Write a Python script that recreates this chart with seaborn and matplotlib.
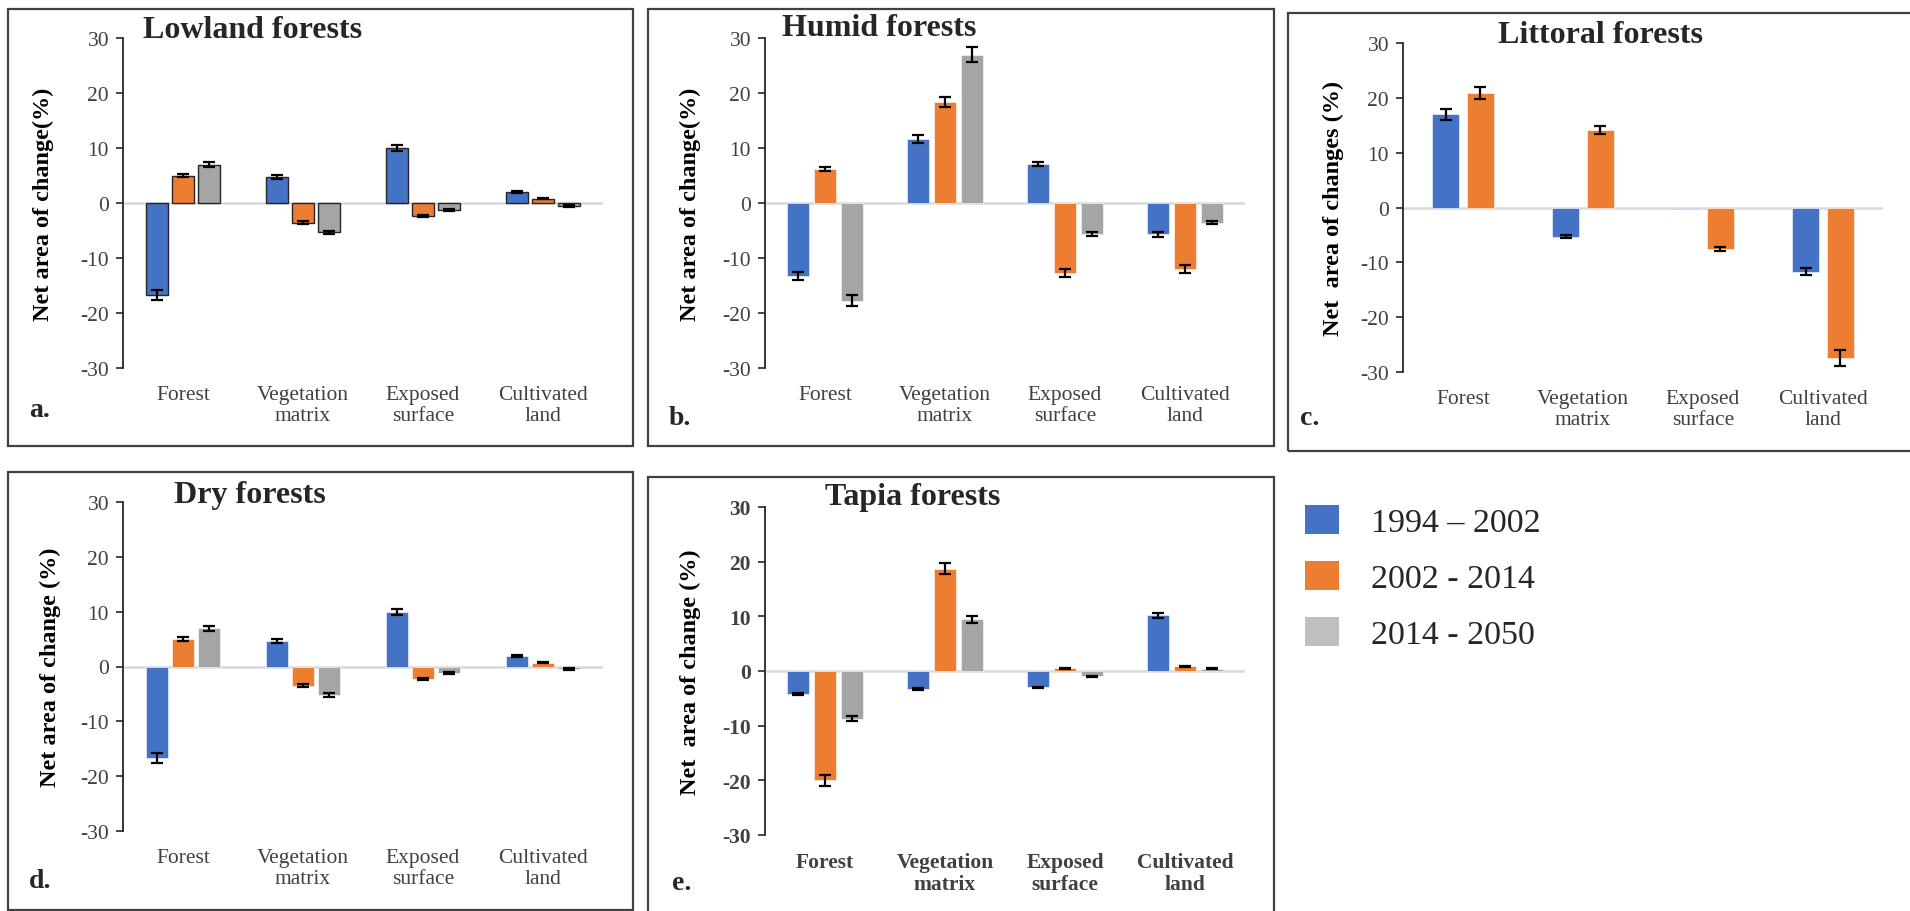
import numpy as np
import pandas as pd
import matplotlib
matplotlib.use("Agg")
import matplotlib.pyplot as plt
from matplotlib.patches import Rectangle, Patch
import seaborn as sns

sns.set_style("white")
plt.rcParams["font.family"] = ["Liberation Serif", "DejaVu Serif"]

# ---------------- data ----------------
categories = ["Forest", "Vegetation\nmatrix", "Exposed\nsurface", "Cultivated\nland"]
periods = ["1994 – 2002", "2002 - 2014", "2014 - 2050"]

lowland_1994 = [-16.7, 4.8, 10.0, 2.0]
lowland_2002 = [5.0, -3.6, -2.3, 0.8]
lowland_2014 = [7.0, -5.3, -1.2, -0.5]
lowland_err_1994 = [0.9, 0.35, 0.55, 0.25]
lowland_err_2002 = [0.35, 0.25, 0.2, 0.15]
lowland_err_2014 = [0.45, 0.3, 0.2, 0.15]

humid_1994 = [-13.3, 11.7, 7.1, -5.7]
humid_2002 = [6.2, 18.3, -12.7, -12.0]
humid_2014 = [-17.8, 27.0, -5.7, -3.6]
humid_err_1994 = [0.7, 0.7, 0.4, 0.4]
humid_err_2002 = [0.4, 0.9, 0.7, 0.7]
humid_err_2014 = [1.0, 1.35, 0.35, 0.25]

littoral_1994 = [17.0, -5.3, -0.3, -11.7]
littoral_2002 = [20.9, 14.1, -7.5, -27.5]
littoral_err_1994 = [1.0, 0.3, np.nan, 0.65]
littoral_err_2002 = [1.05, 0.75, 0.35, 1.45]

dry_1994 = [-16.7, 4.7, 10.0, 1.9]
dry_2002 = [5.0, -3.5, -2.3, 0.7]
dry_2014 = [7.0, -5.2, -1.2, -0.4]
dry_err_1994 = [0.9, 0.35, 0.55, 0.25]
dry_err_2002 = [0.35, 0.25, 0.2, 0.15]
dry_err_2014 = [0.45, 0.3, 0.2, 0.15]

tapia_1994 = [-4.2, -3.3, -3.0, 10.2]
tapia_2002 = [-20.0, 18.75, 0.5, 0.9]
tapia_2014 = [-8.7, 9.5, -1.0, 0.4]
tapia_err_1994 = [0.15, 0.15, 0.1, 0.45]
tapia_err_2002 = [1.0, 1.05, 0.1, 0.1]
tapia_err_2014 = [0.4, 0.65, 0.1, 0.1]

yticks = [-30, -20, -10, 0, 10, 20, 30]

colors = {"1994 – 2002": "#4472C4", "2002 - 2014": "#ED7D31", "2014 - 2050": "#A5A5A5"}
legend_colors = ["#4472C4", "#ED7D31", "#BFBFBF"]

W, H = 1910, 912
fig = plt.figure(figsize=(W / 100, H / 100), dpi=100)


def px_axes(left, top, right, bottom):
    return fig.add_axes([left / W, 1 - bottom / H, (right - left) / W, (bottom - top) / H])


def make_df(series, errs, nper):
    rows = []
    for k in range(nper):
        for i, c in enumerate(categories):
            rows.append({"cat": c, "period": periods[k], "value": series[k][i], "err": errs[k][i]})
    return pd.DataFrame(rows)


def panel(box, axbox, series, errs, title, title_xy, ylabel, ylab_x, letter, letter_xy,
          width, gap, edge=None, bold_ticks=False):
    nper = len(series)
    df = make_df(series, errs, nper)
    ax = px_axes(*axbox)
    hue_order = periods[:nper]
    sns.barplot(data=df, x="cat", y="value", hue="period", hue_order=hue_order,
                order=categories, palette=colors, width=width, gap=gap, errorbar=None,
                legend=False, ax=ax, saturation=1,
                edgecolor=edge if edge else "white", linewidth=1.0 if edge else 0.4,
                zorder=3)
    bar_conts = list(ax.containers)
    # error bars
    for k, cont in enumerate(bar_conts):
        per = hue_order[k]
        for bar in cont:
            xc = bar.get_x() + bar.get_width() / 2
            ci = int(round(xc))
            row = df[(df["cat"] == categories[ci]) & (df["period"] == per)].iloc[0]
            if np.isnan(row["err"]):
                continue
            ax.errorbar(xc, row["value"], yerr=row["err"], fmt="none", ecolor="black",
                        elinewidth=1.6, capsize=4.5, capthick=1.6, zorder=4)
    ax.axhline(0, color="#D9D9D9", lw=1.8, zorder=2)
    ax.set_xlim(-0.5, 3.5)
    ax.set_ylim(-30, 30)
    ax.set_yticks(yticks)
    ax.set_yticklabels([str(t) for t in yticks])
    for s in ["top", "right", "bottom"]:
        ax.spines[s].set_visible(False)
    ax.spines["left"].set_color("#262626")
    ax.spines["left"].set_linewidth(1.3)
    ax.tick_params(axis="y", direction="out", length=5, width=1.2, color="#262626",
                   labelsize=15.5, labelcolor="#404040", pad=5, left=True)
    ax.tick_params(axis="x", length=0, labelsize=15.5, labelcolor="#404040", pad=12)
    for lab in ax.get_xticklabels():
        lab.set_linespacing(1.15)
        if bold_ticks:
            lab.set_fontweight("bold")
    if bold_ticks:
        for lab in ax.get_yticklabels():
            lab.set_fontweight("bold")
    ax.set_xlabel("")
    ax.set_ylabel(ylabel, fontsize=17.5, fontweight="bold", color="black", va="center")
    ax.yaxis.set_label_coords(ylab_x, 0.5)
    ax.patch.set_alpha(0)
    fig.text(title_xy[0] / W, 1 - title_xy[1] / H, title, fontsize=23, fontweight="bold",
             ha="left", va="baseline")
    fig.text(letter_xy[0] / W, 1 - letter_xy[1] / H, letter, fontsize=20, fontweight="bold",
             ha="left", va="baseline")
    l, t, r, b = box
    fig.add_artist(Rectangle((l / W, 1 - b / H), (r - l) / W, (b - t) / H,
                             transform=fig.transFigure, fill=False, ec="#404040", lw=1.6,
                             zorder=0))
    return ax


panel((8, 10, 633, 447), (123, 39, 603, 369),
      [lowland_1994, lowland_2002, lowland_2014],
      [lowland_err_1994, lowland_err_2002, lowland_err_2014],
      "Lowland forests", (143, 38), "Net area of change(%)", -0.165, "a.", (29, 417),
      width=0.66, gap=0.17, edge="#262626")

panel((648, 10, 1274, 447), (765, 39, 1245, 369),
      [humid_1994, humid_2002, humid_2014],
      [humid_err_1994, humid_err_2002, humid_err_2014],
      "Humid forests", (782, 36), "Net area of change(%)", -0.156, "b.", (669, 425),
      width=0.67, gap=0.2)

panel((1288, 14, 1915, 452), (1403, 44, 1883, 373),
      [littoral_1994, littoral_2002],
      [littoral_err_1994, littoral_err_2002],
      "Littoral forests", (1498, 43), "Net  area of changes (%)", -0.146, "c.", (1300, 425),
      width=0.58, gap=0.22)

panel((8, 473, 633, 911), (123, 503, 603, 832),
      [dry_1994, dry_2002, dry_2014],
      [dry_err_1994, dry_err_2002, dry_err_2014],
      "Dry forests", (174, 503), "Net area of change (%)", -0.152, "d.", (29, 888),
      width=0.66, gap=0.17)

panel((648, 478, 1274, 920), (765, 508, 1245, 836),
      [tapia_1994, tapia_2002, tapia_2014],
      [tapia_err_1994, tapia_err_2002, tapia_err_2014],
      "Tapia forests", (825, 505), "Net  area of change (%)", -0.156, "e.", (672, 890),
      width=0.67, gap=0.2, bold_ticks=True)

handles = [Patch(facecolor=c, edgecolor="none") for c in legend_colors]
fig.legend(handles, periods, loc="upper left", bbox_to_anchor=(1305 / W, 1 - 506 / H),
           frameon=False, fontsize=24.5, handlelength=1.0, handleheight=0.92,
           handletextpad=0.95, labelspacing=0.68, borderpad=0, borderaxespad=0)

fig.savefig("out.png", dpi=100)
